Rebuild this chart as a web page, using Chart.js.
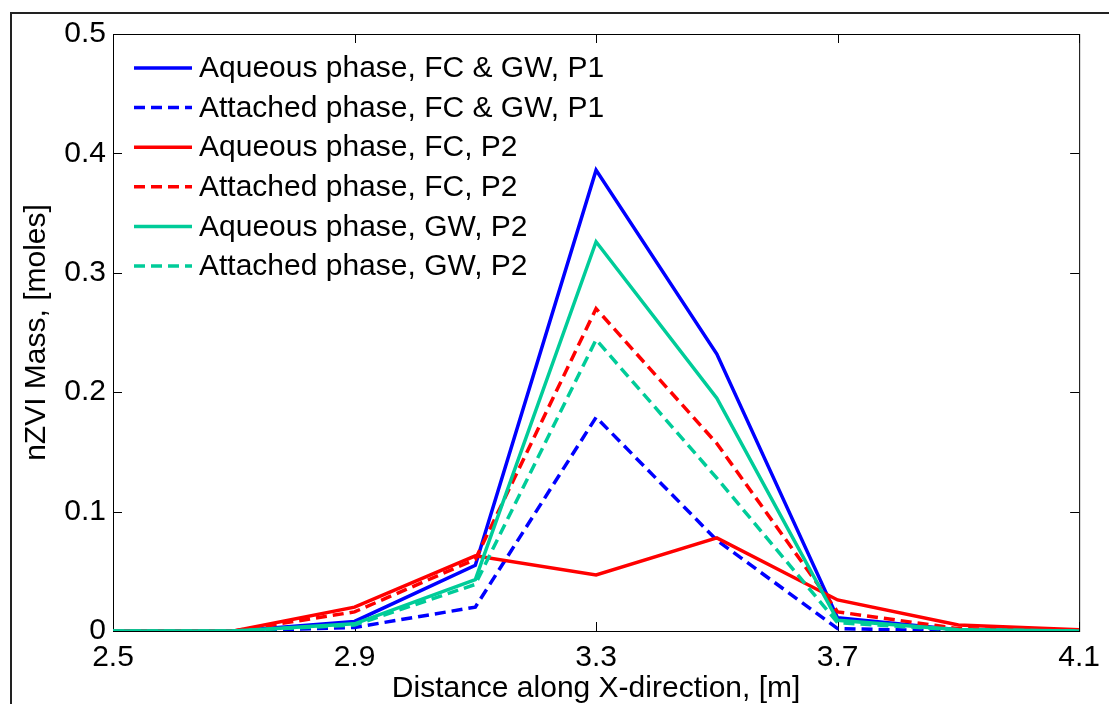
<!DOCTYPE html>
<html>
<head>
<meta charset="utf-8">
<title>nZVI Mass</title>
<script src="https://cdn.jsdelivr.net/npm/chart.js@4/dist/chart.umd.min.js"></script>
<style>
  html, body { margin: 0; padding: 0; background: #fff; }
  canvas { display: block; }
</style>
</head>
<body>
<canvas id="massChart" width="1109" height="704"></canvas>
<script>
// --- DATA ---
const distance = [2.5, 2.7, 2.9, 3.1, 3.3, 3.5, 3.7, 3.9, 4.1];
const aqueousFcGwP1 = [0, 0, 0.008, 0.055, 0.386, 0.232, 0.011, 0.001, 0];
const attachedFcGwP1 = [0, 0, 0.003, 0.020, 0.179, 0.076, 0.002, 0, 0];
const aqueousFcP2 = [0, 0, 0.020, 0.063, 0.047, 0.078, 0.026, 0.005, 0.001];
const attachedFcP2 = [0, 0, 0.016, 0.060, 0.270, 0.157, 0.016, 0.002, 0];
const aqueousGwP2 = [0, 0, 0.006, 0.043, 0.326, 0.195, 0.009, 0.001, 0];
const attachedGwP2 = [0, 0, 0.005, 0.039, 0.244, 0.128, 0.007, 0.001, 0];

const seriesLabels = [
    'Aqueous phase, FC & GW, P1',
    'Attached phase, FC & GW, P1',
    'Aqueous phase, FC, P2',
    'Attached phase, FC, P2',
    'Aqueous phase, GW, P2',
    'Attached phase, GW, P2'
];

const xTicks = [2.5, 2.9, 3.3, 3.7, 4.1];
const xTickLabels = ['2.5', '2.9', '3.3', '3.7', '4.1'];
const yTicks = [0, 0.1, 0.2, 0.3, 0.4, 0.5];
const yTickLabels = ['0', '0.1', '0.2', '0.3', '0.4', '0.5'];

const FONT = '"Liberation Sans", Arial, sans-serif';
const FONT_SIZE = 30;
const BLUE = '#0000ff';
const RED = '#ff0000';
const GREEN = '#00cc99';
const DASH = [11, 6];

const toPoints = (values) => values.map((v, i) => ({ x: distance[i], y: v }));

const makeSet = (label, values, color, dashed, idx) => ({
    label: label,
    data: toPoints(values),
    borderColor: color,
    backgroundColor: color,
    borderWidth: 3.5,
    borderDash: dashed ? DASH : [],
    pointRadius: 0,
    tension: 0,
    fill: false,
    order: 10 - idx   // later series drawn on top, like matlab
});

// --- PLUGINS ---
const pageFrame = {
    id: 'pageFrame',
    beforeDraw(chart) {
        const { ctx, width, height } = chart;
        ctx.save();
        ctx.fillStyle = '#fff';
        ctx.fillRect(0, 0, width, height);
        ctx.strokeStyle = '#222';
        ctx.lineWidth = 2;
        ctx.strokeRect(11, 13, width + 40, height + 40);
        ctx.restore();
    }
};

const axesBox = {
    id: 'axesBox',
    beforeDatasetsDraw(chart) {
        const { ctx, chartArea: a, scales: { x, y } } = chart;
        const len = 9;
        ctx.save();
        ctx.strokeStyle = '#000';
        ctx.lineWidth = 1;
        ctx.strokeRect(a.left + 0.5, a.top + 0.5, a.right - a.left, a.bottom - a.top);
        ctx.beginPath();
        x.ticks.forEach(t => {
            const px = Math.round(x.getPixelForValue(t.value)) + 0.5;
            ctx.moveTo(px, a.bottom); ctx.lineTo(px, a.bottom - len);
            ctx.moveTo(px, a.top); ctx.lineTo(px, a.top + len);
        });
        y.ticks.forEach(t => {
            const py = Math.round(y.getPixelForValue(t.value)) + 0.5;
            ctx.moveTo(a.left, py); ctx.lineTo(a.left + len, py);
            ctx.moveTo(a.right, py); ctx.lineTo(a.right - len, py);
        });
        ctx.stroke();
        ctx.restore();
    }
};

const innerLegend = {
    id: 'innerLegend',
    afterDraw(chart) {
        const { ctx, chartArea: a } = chart;
        const x0 = a.left + 21;
        ctx.save();
        ctx.font = FONT_SIZE + 'px ' + FONT;
        ctx.textBaseline = 'middle';
        ctx.textAlign = 'left';
        chart.data.datasets.forEach((ds, i) => {
            const yy = a.top + 34 + i * 39.6;
            ctx.strokeStyle = ds.borderColor;
            ctx.lineWidth = 3.5;
            ctx.setLineDash(ds.borderDash);
            ctx.beginPath();
            ctx.moveTo(x0, yy);
            ctx.lineTo(x0 + 58, yy);
            ctx.stroke();
            ctx.setLineDash([]);
            ctx.fillStyle = '#000';
            ctx.fillText(ds.label, x0 + 65, yy + 1);
        });
        ctx.restore();
    }
};

// --- CHART ---
const ctx = document.getElementById('massChart').getContext('2d');
const massChart = new Chart(ctx, {
    type: 'line',
    data: {
        datasets: [
            makeSet(seriesLabels[0], aqueousFcGwP1, BLUE, false, 0),
            makeSet(seriesLabels[1], attachedFcGwP1, BLUE, true, 1),
            makeSet(seriesLabels[2], aqueousFcP2, RED, false, 2),
            makeSet(seriesLabels[3], attachedFcP2, RED, true, 3),
            makeSet(seriesLabels[4], aqueousGwP2, GREEN, false, 4),
            makeSet(seriesLabels[5], attachedGwP2, GREEN, true, 5)
        ]
    },
    options: {
        responsive: false,
        animation: false,
        layout: { padding: { left: 0, top: 34, right: 24, bottom: 0 } },
        plugins: { legend: { display: false }, tooltip: { enabled: false } },
        scales: {
            x: {
                type: 'linear',
                min: 2.5,
                max: 4.1,
                grid: { display: false, drawTicks: false },
                border: { display: false },
                afterBuildTicks: s => { s.ticks = xTicks.map(v => ({ value: v })); },
                afterFit: s => { s.height = 73; },
                ticks: {
                    color: '#000',
                    font: { family: FONT, size: FONT_SIZE },
                    padding: 9,
                    maxRotation: 0,
                    autoSkip: false,
                    callback: v => xTickLabels[xTicks.indexOf(v)]
                },
                title: {
                    display: true,
                    text: 'Distance along X-direction, [m]',
                    color: '#000',
                    font: { family: FONT, size: FONT_SIZE, lineHeight: 1 },
                    padding: { top: 0, bottom: 0 }
                }
            },
            y: {
                min: 0,
                max: 0.5,
                grid: { display: false, drawTicks: false },
                border: { display: false },
                afterBuildTicks: s => { s.ticks = yTicks.map(v => ({ value: v })); },
                afterFit: s => { s.width = 113; },
                ticks: {
                    color: '#000',
                    font: { family: FONT, size: FONT_SIZE },
                    padding: 7,
                    autoSkip: false,
                    callback: v => yTickLabels[yTicks.indexOf(v)]
                },
                title: {
                    display: true,
                    text: 'nZVI Mass, [moles]',
                    color: '#000',
                    font: { family: FONT, size: FONT_SIZE, lineHeight: 1 },
                    padding: { top: 22, bottom: 0 }
                }
            }
        }
    },
    plugins: [pageFrame, axesBox, innerLegend]
});
</script>
</body>
</html>
